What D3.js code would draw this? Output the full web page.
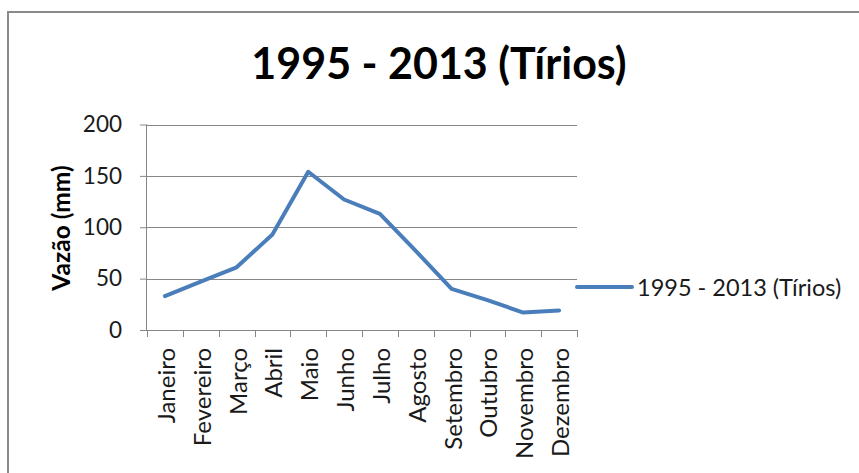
<!DOCTYPE html>
<html>
<head>
<meta charset="utf-8">
<script src="https://cdn.jsdelivr.net/npm/d3@7"></script>
<style>
  html, body { margin: 0; padding: 0; background: #fff; }
  svg { display: block; }
  text { font-family: Lato, "Noto Sans", sans-serif; }
</style>
</head>
<body>
<div id="chart"></div>
<script>
// Monthly mean streamflow, 1995–2013, Tírios station
const months = ["Janeiro", "Fevereiro", "Março", "Abril", "Maio", "Junho",
                "Julho", "Agosto", "Setembro", "Outubro", "Novembro", "Dezembro"];
const vazao = [33, 47, 61, 93, 154, 127, 113, 77, 40, 29, 17, 19];
const yTicks = [0, 50, 100, 150, 200];
const seriesName = "1995 - 2013 (Tírios)";
const chartTitle = "1995 - 2013 (Tírios)";
const yTitle = "Vazão (mm)";

const W = 859, H = 473;
const lineColor = "#4a7ebb";
const gridColor = "#868686";
const textColor = "#1a1a1a";

const svg = d3.select("#chart").append("svg")
  .attr("width", W).attr("height", H);

svg.append("rect").attr("width", W).attr("height", H).attr("fill", "#fff");

// chart area frame
svg.append("rect")
  .attr("x", 8).attr("y", 12)
  .attr("width", W + 20).attr("height", H + 20)
  .attr("fill", "none").attr("stroke", "#8a8a8a").attr("stroke-width", 2);

const plot = { left: 147, right: 577, top: 124.5, bottom: 330 };

const x = d3.scaleBand().domain(months).range([plot.left, plot.right]).padding(0);
const y = d3.scaleLinear().domain([0, 200]).range([plot.bottom, plot.top]);

// title
svg.append("text")
  .attr("x", 439).attr("y", 79)
  .attr("text-anchor", "middle")
  .attr("font-size", 43).attr("font-weight", 700)
  .attr("fill", "#000")
  .text(chartTitle);

// y axis with left tick marks
const yAxis = d3.axisLeft(y).tickValues(yTicks).tickSize(7).tickPadding(18);
const gy = svg.append("g")
  .attr("transform", `translate(${plot.left},0)`)
  .call(yAxis);
gy.select(".domain").attr("stroke", gridColor).attr("d", `M-0.5,${plot.top}V${plot.bottom}`);
gy.selectAll(".tick line").attr("stroke", gridColor);
gy.selectAll(".tick text")
  .attr("font-size", 22.5).attr("fill", textColor)
  .attr("font-family", "Lato, 'Noto Sans', sans-serif");

// horizontal gridlines
svg.append("g").selectAll("line")
  .data(yTicks.filter(d => d > 0))
  .join("line")
  .attr("x1", plot.left).attr("x2", plot.right)
  .attr("y1", d => Math.round(y(d)) + 0.5).attr("y2", d => Math.round(y(d)) + 0.5)
  .attr("stroke", gridColor).attr("stroke-width", 1);

// x axis line with category-boundary ticks
const boundaries = months.map(m => x(m)).concat([plot.right]);
const gx = svg.append("g");
gx.append("line")
  .attr("x1", plot.left).attr("x2", plot.right)
  .attr("y1", plot.bottom + 0.5).attr("y2", plot.bottom + 0.5)
  .attr("stroke", gridColor);
gx.selectAll("line.tk")
  .data(boundaries)
  .join("line").attr("class", "tk")
  .attr("x1", d => Math.round(d) + 0.5).attr("x2", d => Math.round(d) + 0.5)
  .attr("y1", plot.bottom).attr("y2", plot.bottom + 7)
  .attr("stroke", gridColor);

// rotated month labels
gx.selectAll("text")
  .data(months)
  .join("text")
  .attr("transform", d => `translate(${x(d) + x.bandwidth() / 2 + 10},348) rotate(-90)`)
  .attr("text-anchor", "end")
  .attr("font-size", 24).attr("fill", textColor)
  .text(d => d);

// y axis title
svg.append("text")
  .attr("transform", "translate(70,228) rotate(-90)")
  .attr("text-anchor", "middle")
  .attr("font-size", 24.5).attr("font-weight", 700)
  .attr("fill", "#000")
  .text(yTitle);

// series line
const line = d3.line()
  .x((d, i) => x(months[i]) + x.bandwidth() / 2)
  .y(d => y(d));

svg.append("path")
  .datum(vazao)
  .attr("d", line)
  .attr("fill", "none")
  .attr("stroke", lineColor)
  .attr("stroke-width", 4)
  .attr("stroke-linejoin", "round")
  .attr("stroke-linecap", "round");

// legend
const lg = svg.append("g").attr("transform", "translate(577,287)");
lg.append("line")
  .attr("x1", 0).attr("x2", 55)
  .attr("stroke", lineColor).attr("stroke-width", 4)
  .attr("stroke-linecap", "round");
lg.append("text")
  .attr("x", 60).attr("y", 8.5)
  .attr("font-size", 23.5).attr("fill", textColor)
  .text(seriesName);
</script>
</body>
</html>
